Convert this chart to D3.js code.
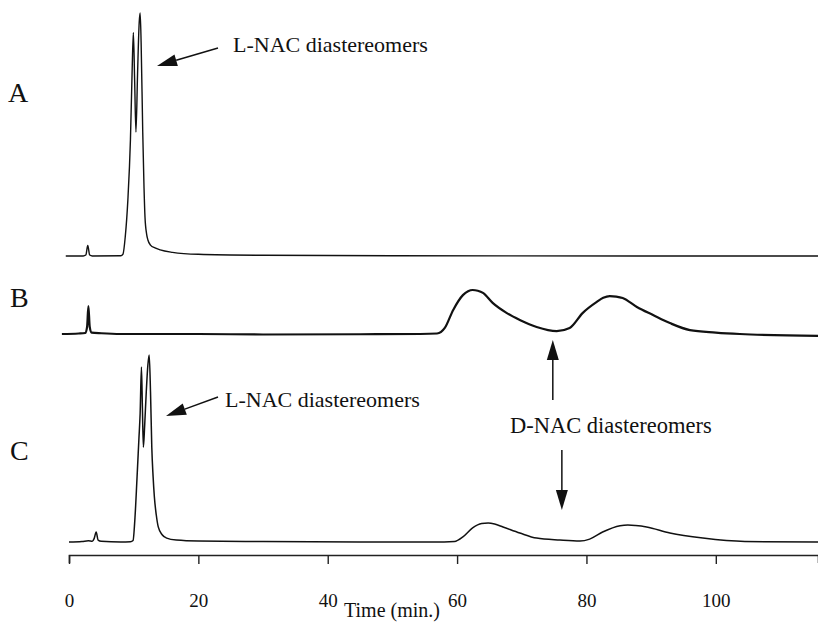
<!DOCTYPE html>
<html>
<head>
<meta charset="utf-8">
<script src="https://cdn.jsdelivr.net/npm/d3@7"></script>
<style>
body { margin: 0; background: #fff; }
svg text { font-family: "Liberation Serif", "Times New Roman", serif; fill: #111; }
</style>
</head>
<body>
<script>
// retention time (min.) and detector response (arbitrary units) read from the three runs
var timeA = [-0.5, 2.2, 2.6, 2.9, 3.2, 3.6, 8.0, 8.35, 8.7, 9.1, 9.5, 9.75, 9.95, 10.15, 10.35, 10.6, 10.85, 11.0, 11.15, 11.4, 11.6, 11.75, 12.0, 12.2, 12.6, 13.3, 14.1, 16, 20, 30, 50, 115.8];
var respA = [0, 0, 0.4, 4.3, 0.4, 0, 0.1, 0.8, 8, 23, 48, 75, 92, 72, 51, 75, 96, 100, 88, 51, 28, 16, 9, 6.6, 4.5, 3.3, 2.5, 1.5, 0.7, 0.3, 0.1, 0];

var timeB = [-1.1, 1.5, 2.5, 2.8, 3.0, 3.2, 3.5, 5, 8, 20, 30, 45, 54.3, 56.9, 58.1, 59.4, 60.9, 61.7, 62.4, 63.2, 64, 65.5, 67.7, 69.7, 72.3, 75.4, 77.4, 79.4, 81.6, 82.6, 83.6, 84.6, 85.6, 87.8, 90.3, 92.9, 96, 100, 103.7, 115.8];
var respB = [0, 0.2, 0.4, 3, 11.5, 3, 0.6, 0.3, 0, 0, -0.2, -0.1, 0, 0.2, 2.5, 9.9, 16, 17.6, 18.1, 17.8, 16.9, 12.8, 8.6, 5.8, 2.9, 1.2, 2.5, 8.6, 13.2, 14.9, 15.6, 15.4, 14.8, 11.1, 7.8, 4.5, 1.6, 0.6, 0, -0.8];

var timeC = [0, 2, 3, 3.6, 3.9, 4.2, 4.5, 5, 8, 9.5, 9.9, 10.2, 10.5, 10.8, 11.0, 11.2, 11.35, 11.5, 11.7, 11.95, 12.2, 12.4, 12.6, 12.8, 13.0, 13.2, 13.5, 13.8, 14.4, 15.1, 16.6, 20, 30, 45, 58, 59.6, 60.9, 62.4, 63.8, 64.8, 65.8, 67.1, 69.7, 72.3, 75.9, 79, 80.5, 82.5, 85.2, 86.4, 87.6, 89.3, 92.9, 98, 104.5, 115.8];
var respC = [0, 0.2, 0.5, 0.3, 1.5, 4.1, 0.8, 0.3, 0, 0.1, 0.6, 10, 25.5, 42, 53, 72, 55, 39, 48, 62, 73, 77, 62, 39, 27, 18.5, 11, 6.2, 3, 1.6, 0.8, 0.4, 0.2, 0, 0, 0.2, 2.1, 5.8, 7.6, 7.8, 7.4, 6.2, 3.7, 1.6, 0.8, 0.4, 1.2, 4.1, 6.7, 7, 6.8, 6.2, 3.7, 1.6, 0.2, 0];

var traceNames = ["A", "B", "C"];
var tickValues = [0, 20, 40, 60, 80, 100];
var axisTitle = "Time (min.)";
var lnacText = "L-NAC diastereomers";
var dnacText = "D-NAC diastereomers";

var width = 818, height = 624;

var svg = d3.select("body").append("svg")
  .attr("width", width)
  .attr("height", height);

var x = d3.scaleLinear().domain([0, 115.8]).range([69, 818]);

// one y scale per run, each with its own baseline
var baselines = [256, 334, 542];
var ys = baselines.map(function(b) {
  return d3.scaleLinear().domain([0, 100]).range([b, b - 243]);
});
var strokes = [1.4, 2.2, 1.5];

var runs = [
  d3.zip(timeA, respA),
  d3.zip(timeB, respB),
  d3.zip(timeC, respC)
];

runs.forEach(function(data, i) {
  var line = d3.line()
    .curve(d3.curveMonotoneX)
    .x(function(d) { return x(d[0]); })
    .y(function(d) { return ys[i](d[1]); });

  svg.append("path")
    .datum(data)
    .attr("fill", "none")
    .attr("stroke", "#111")
    .attr("stroke-width", strokes[i])
    .attr("stroke-linejoin", "round")
    .attr("d", line);
});

// run labels
var labelY = [102, 307, 460];
svg.selectAll(".run-label")
  .data(traceNames)
  .enter().append("text")
  .attr("class", "run-label")
  .attr("x", function(d, i) { return i == 0 ? 8 : 10; })
  .attr("y", function(d, i) { return labelY[i]; })
  .style("font-size", "28px")
  .text(function(d) { return d; });

// time axis
var axis = svg.append("g")
  .attr("transform", "translate(0,555)")
  .call(d3.axisBottom(x)
    .tickValues(tickValues)
    .tickSize(9)
    .tickSizeOuter(8)
    .tickPadding(30)
    .tickFormat(d3.format("d")));

axis.select(".domain").attr("stroke", "#222").attr("stroke-width", 1.6);
axis.selectAll(".tick line").attr("stroke", "#222").attr("stroke-width", 1.4);
axis.selectAll(".tick text")
  .style("font-size", "19px")
  .style("font-family", "'Liberation Serif', serif")
  .attr("fill", "#111");

svg.append("text")
  .attr("x", 392)
  .attr("y", 617)
  .attr("text-anchor", "middle")
  .style("font-size", "20px")
  .text(axisTitle);

// arrows
function arrow(x1, y1, x2, y2, len, w) {
  var dx = x2 - x1, dy = y2 - y1;
  var d = Math.sqrt(dx * dx + dy * dy);
  var ux = dx / d, uy = dy / d;
  var bx = x2 - ux * len, by = y2 - uy * len;
  svg.append("line")
    .attr("x1", x1).attr("y1", y1)
    .attr("x2", bx).attr("y2", by)
    .attr("stroke", "#111")
    .attr("stroke-width", 1.5);
  svg.append("path")
    .attr("d", "M" + x2 + "," + y2 +
      "L" + (bx - uy * w / 2) + "," + (by + ux * w / 2) +
      "L" + (bx + uy * w / 2) + "," + (by - ux * w / 2) + "Z")
    .attr("fill", "#111");
}

// L-NAC labels for runs A and C
svg.append("text")
  .attr("x", 233).attr("y", 52)
  .style("font-size", "22px")
  .text(lnacText);
arrow(218, 48, 157, 66, 20, 12);

svg.append("text")
  .attr("x", 225).attr("y", 407)
  .style("font-size", "22px")
  .text(lnacText);
arrow(218, 397, 166, 416, 20, 12);

// D-NAC label between runs B and C
svg.append("text")
  .attr("x", 510).attr("y", 433)
  .style("font-size", "22.5px")
  .text(dnacText);
arrow(x(74.8), 400, x(74.8), 340, 20, 12);
arrow(x(76.2), 450, x(76.2), 510, 20, 12);
</script>
</body>
</html>
